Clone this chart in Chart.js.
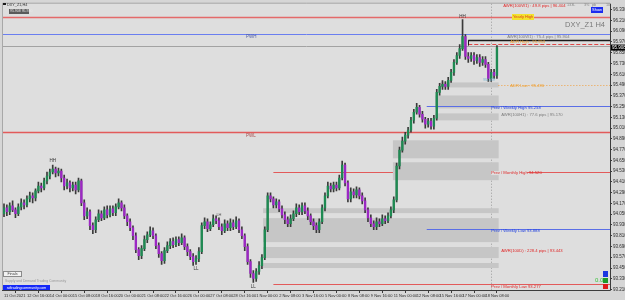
<!DOCTYPE html>
<html>
<head>
<meta charset="utf-8">
<script src="https://cdn.jsdelivr.net/npm/chart.js@4.4.1/dist/chart.umd.min.js"></script>
<style>
  html, body { margin: 0; padding: 0; background: #dcdcdc; overflow: hidden; }
  canvas { display: block; }
</style>
</head>
<body>
<canvas id="chart" width="625" height="300"></canvas>
<script>
// DXY_Z1 H4 - candles from 11 Oct 2021 08:00 to 19 Nov 2021 00:00

const opens = [
  94.055, 94.121, 94.077, 94.143, 94.099, 94.055, 94.132, 94.177, 94.154, 94.221,
  94.254, 94.232, 94.310, 94.365, 94.343, 94.421, 94.476, 94.521, 94.554, 94.510,
  94.532, 94.454, 94.365, 94.399, 94.343, 94.376, 94.321, 94.421, 94.177, 94.032,
  94.077, 93.922, 93.877, 93.988, 94.055, 94.010, 94.099, 94.043, 94.110, 94.066,
  94.132, 94.177, 94.121, 94.032, 93.966, 93.899, 93.810, 93.655, 93.588, 93.666,
  93.766, 93.821, 93.866, 93.810, 93.699, 93.611, 93.533, 93.644, 93.699, 93.744,
  93.710, 93.766, 93.733, 93.788, 93.688, 93.633, 93.577, 93.522, 93.555, 93.633,
  93.922, 93.966, 93.888, 93.932, 93.999, 93.977, 93.910, 93.866, 93.944, 93.899,
  93.955, 93.910, 93.977, 93.877, 93.810, 93.688, 93.522, 93.389, 93.333, 93.411,
  93.477, 93.566, 93.877, 94.254, 94.221, 94.154, 94.188, 94.110, 94.043, 93.988,
  93.944, 93.999, 94.055, 94.121, 94.077, 94.143, 94.088, 94.032, 93.966, 93.922,
  93.877, 93.966, 94.121, 94.254, 94.365, 94.332, 94.376, 94.343, 94.454, 94.598,
  94.399, 94.221, 94.299, 94.265, 94.321, 94.254, 94.199, 94.099, 94.010, 93.944,
  93.910, 93.966, 93.944, 93.999, 93.977, 94.032, 94.099, 94.210, 94.587, 94.765,
  94.865, 94.931, 94.987, 95.098, 95.187, 95.242, 95.164, 95.109, 95.054, 95.087,
  95.031, 95.120, 95.409, 95.475, 95.497, 95.475, 95.542, 95.631, 95.742, 95.819,
  95.897, 96.030, 95.808, 95.786, 95.819, 95.764, 95.797, 95.742, 95.775, 95.720,
  95.564, 95.631, 95.597
];
const highs = [
  94.165, 94.154, 94.176, 94.199, 94.121, 94.165, 94.221, 94.210, 94.254, 94.298,
  94.287, 94.332, 94.409, 94.398, 94.454, 94.520, 94.554, 94.598, 94.576, 94.565,
  94.554, 94.487, 94.443, 94.421, 94.409, 94.409, 94.454, 94.443, 94.210, 94.121,
  94.099, 93.955, 94.021, 94.099, 94.088, 94.132, 94.143, 94.143, 94.143, 94.165,
  94.221, 94.199, 94.154, 94.054, 93.999, 93.921, 93.843, 93.677, 93.699, 93.810,
  93.854, 93.910, 93.899, 93.832, 93.732, 93.633, 93.677, 93.743, 93.777, 93.788,
  93.799, 93.799, 93.832, 93.810, 93.721, 93.655, 93.610, 93.588, 93.677, 93.955,
  94.010, 93.999, 93.965, 94.043, 94.032, 94.010, 93.943, 93.988, 93.977, 93.999,
  93.988, 94.021, 93.999, 93.910, 93.832, 93.721, 93.544, 93.422, 93.444, 93.521,
  93.599, 93.910, 94.287, 94.287, 94.243, 94.221, 94.210, 94.143, 94.076, 94.021,
  94.043, 94.088, 94.165, 94.154, 94.176, 94.176, 94.121, 94.054, 93.999, 93.955,
  93.999, 94.154, 94.287, 94.409, 94.398, 94.409, 94.409, 94.487, 94.642, 94.620,
  94.421, 94.343, 94.332, 94.354, 94.343, 94.287, 94.232, 94.121, 94.043, 93.977,
  94.010, 93.999, 94.043, 94.032, 94.065, 94.132, 94.243, 94.620, 94.798, 94.909,
  94.964, 95.020, 95.131, 95.220, 95.286, 95.264, 95.197, 95.131, 95.120, 95.120,
  95.153, 95.442, 95.508, 95.541, 95.530, 95.575, 95.664, 95.775, 95.852, 95.941,
  96.219, 96.052, 95.852, 95.852, 95.852, 95.830, 95.830, 95.808, 95.808, 95.742,
  95.664, 95.664, 95.930
];
const lows = [
  94.022, 94.033, 94.044, 94.077, 94.011, 94.033, 94.099, 94.110, 94.132, 94.188,
  94.176, 94.199, 94.288, 94.299, 94.321, 94.388, 94.443, 94.499, 94.466, 94.477,
  94.410, 94.321, 94.332, 94.299, 94.310, 94.277, 94.299, 94.144, 93.988, 93.999,
  93.878, 93.833, 93.844, 93.966, 93.977, 93.988, 94.010, 94.021, 94.033, 94.033,
  94.110, 94.088, 93.999, 93.922, 93.866, 93.766, 93.622, 93.544, 93.555, 93.644,
  93.733, 93.799, 93.777, 93.666, 93.567, 93.489, 93.500, 93.622, 93.666, 93.677,
  93.688, 93.700, 93.711, 93.655, 93.589, 93.544, 93.478, 93.489, 93.522, 93.611,
  93.889, 93.855, 93.866, 93.910, 93.944, 93.877, 93.822, 93.844, 93.866, 93.866,
  93.877, 93.888, 93.844, 93.777, 93.644, 93.489, 93.345, 93.289, 93.300, 93.378,
  93.444, 93.544, 93.855, 94.188, 94.121, 94.121, 94.077, 94.010, 93.944, 93.911,
  93.911, 93.977, 94.022, 94.044, 94.044, 94.055, 93.988, 93.933, 93.878, 93.844,
  93.844, 93.944, 94.088, 94.232, 94.299, 94.299, 94.310, 94.321, 94.432, 94.366,
  94.188, 94.188, 94.232, 94.232, 94.221, 94.166, 94.066, 93.966, 93.911, 93.877,
  93.877, 93.911, 93.922, 93.944, 93.955, 94.010, 94.066, 94.188, 94.554, 94.743,
  94.832, 94.898, 94.965, 95.065, 95.165, 95.131, 95.076, 95.010, 95.021, 94.998,
  94.998, 95.098, 95.376, 95.442, 95.442, 95.442, 95.520, 95.598, 95.720, 95.786,
  95.875, 95.775, 95.742, 95.753, 95.720, 95.731, 95.698, 95.709, 95.687, 95.531,
  95.531, 95.564, 95.564
];
const closes = [
  94.121, 94.077, 94.143, 94.099, 94.055, 94.132, 94.177, 94.154, 94.221, 94.254,
  94.232, 94.310, 94.365, 94.343, 94.421, 94.476, 94.521, 94.554, 94.510, 94.532,
  94.454, 94.365, 94.399, 94.343, 94.376, 94.321, 94.421, 94.177, 94.032, 94.077,
  93.922, 93.877, 93.988, 94.055, 94.010, 94.099, 94.043, 94.110, 94.066, 94.132,
  94.177, 94.121, 94.032, 93.966, 93.899, 93.810, 93.655, 93.588, 93.666, 93.766,
  93.821, 93.866, 93.810, 93.699, 93.611, 93.533, 93.644, 93.699, 93.744, 93.710,
  93.766, 93.733, 93.788, 93.688, 93.633, 93.577, 93.522, 93.555, 93.633, 93.922,
  93.966, 93.888, 93.932, 93.999, 93.977, 93.910, 93.866, 93.944, 93.899, 93.955,
  93.910, 93.977, 93.877, 93.810, 93.688, 93.522, 93.389, 93.333, 93.411, 93.477,
  93.566, 93.877, 94.254, 94.221, 94.154, 94.188, 94.110, 94.043, 93.988, 93.944,
  93.999, 94.055, 94.121, 94.077, 94.143, 94.088, 94.032, 93.966, 93.922, 93.877,
  93.966, 94.121, 94.254, 94.365, 94.332, 94.376, 94.343, 94.454, 94.598, 94.399,
  94.221, 94.299, 94.265, 94.321, 94.254, 94.199, 94.099, 94.010, 93.944, 93.910,
  93.966, 93.944, 93.999, 93.977, 94.032, 94.099, 94.210, 94.587, 94.765, 94.865,
  94.931, 94.987, 95.098, 95.187, 95.242, 95.164, 95.109, 95.054, 95.087, 95.031,
  95.120, 95.409, 95.475, 95.497, 95.475, 95.542, 95.631, 95.742, 95.819, 95.897,
  96.030, 95.808, 95.786, 95.819, 95.764, 95.797, 95.742, 95.775, 95.720, 95.564,
  95.631, 95.597, 95.908
];

// time axis labels, one every 8 bars
const timeLabels = [
  '11 Oct 2021', '12 Oct 16:00', '14 Oct 00:00', '15 Oct 08:00', '18 Oct 16:00', '20 Oct 00:00',
  '21 Oct 08:00', '22 Oct 16:00', '26 Oct 00:00', '27 Oct 08:00', '28 Oct 16:00', '1 Nov 00:00',
  '2 Nov 08:00', '3 Nov 16:00', '5 Nov 00:00', '8 Nov 08:00', '9 Nov 16:00', '11 Nov 00:00',
  '12 Nov 08:00', '15 Nov 16:00', '17 Nov 00:00', '18 Nov 08:00'
];
const priceTicks = [
  96.330, 96.210, 96.090, 95.970, 95.850, 95.730, 95.610, 95.490, 95.370, 95.250,
  95.130, 95.010, 94.890, 94.770, 94.650, 94.530, 94.410, 94.290, 94.170, 94.050,
  93.930, 93.810, 93.690, 93.570, 93.450, 93.330, 93.210
];

// supply / demand zones (bar index from-to, price top-bottom)
const zoneFrom   = [152, 150.5, 150.5, 135.7, 135.7, 90.4, 90.4, 90.4, 90.4];
const zoneTo     = [172.6, 172.6, 172.6, 172.6, 172.6, 172.6, 172.6, 172.6, 172.6];
const zoneTop    = [95.519, 95.374, 95.174, 94.874, 94.629, 94.117, 94.006, 93.684, 93.506];
const zoneBottom = [95.463, 95.229, 95.096, 94.673, 94.429, 94.062, 93.739, 93.561, 93.450];

// key levels
const yearlyHigh = 96.252;
const pwhLevel = 96.063;
const pwlLevel = 94.962;
const weeklyHigh = 95.258;
const weeklyLow = 93.888;
const monthlyHigh = 94.520;
const monthlyLow = 93.277;
const adrHigh = 95.991;
const adrMid = 95.952;
const adrLow = 95.496;
const dayStartBar = 170;

const GREEN = '#1e8a52';
const PURPLE = '#9c27c4';
const WICK = '#3a3a3a';
const FONT = '"Liberation Sans", Arial, sans-serif';

const bodies = opens.map((o, i) => ({ x: i, y: [o, closes[i]] }));
const wicks = highs.map((h, i) => ({ x: i, y: [lows[i], h] }));

function txt(ctx, s, x, y, color, size, align) {
  ctx.font = size + 'px ' + FONT;
  ctx.fillStyle = color;
  ctx.textAlign = align || 'left';
  ctx.textBaseline = 'middle';
  ctx.fillText(s, x, y);
}

function hline(ctx, y, x1, x2, color, width, dash) {
  ctx.save();
  ctx.strokeStyle = color;
  ctx.lineWidth = width || 1;
  ctx.setLineDash(dash || []);
  ctx.beginPath();
  const yy = Math.round(y) + 0.5;
  ctx.moveTo(x1, yy);
  ctx.lineTo(x2, yy);
  ctx.stroke();
  ctx.restore();
}

const overlay = {
  id: 'overlay',
  beforeDraw(chart) {
    const { ctx, chartArea: a } = chart;
    ctx.save();
    ctx.fillStyle = '#d6d6d6';
    ctx.fillRect(0, 0, chart.width, chart.height);
    ctx.fillStyle = '#dedede';
    ctx.fillRect(a.left, a.top, a.right - a.left, a.bottom - a.top);
    ctx.restore();
  },
  beforeDatasetsDraw(chart) {
    const { ctx, chartArea: a } = chart;
    const X = v => chart.scales.x.getPixelForValue(v);
    const Y = v => chart.scales.y.getPixelForValue(v);

    // day separator
    ctx.save();
    ctx.strokeStyle = '#9a9a9a';
    ctx.setLineDash([1, 2]);
    ctx.beginPath();
    ctx.moveTo(Math.round(X(dayStartBar)) + 0.5, a.top);
    ctx.lineTo(Math.round(X(dayStartBar)) + 0.5, a.bottom);
    ctx.stroke();
    ctx.restore();

    hline(ctx, Y(monthlyHigh), X(94), a.right, '#e25a5a');

    // zones
    ctx.fillStyle = '#c6c6c6';
    zoneFrom.forEach((f, i) => {
      const x1 = X(f), x2 = X(zoneTo[i]);
      const y1 = Y(zoneTop[i]), y2 = Y(zoneBottom[i]);
      ctx.fillRect(x1, y1, x2 - x1, y2 - y1);
    });

    hline(ctx, Y(yearlyHigh), a.left, a.right, '#e46a6a', 1.5);
    hline(ctx, Y(pwhLevel), a.left, a.right, '#6a7ef0');
    hline(ctx, Y(pwlLevel), a.left, a.right, '#e25a5a', 1.5);
    hline(ctx, Y(closes[closes.length - 1]) - 2, a.left, a.right, '#a2a2a2');
    hline(ctx, Y(weeklyHigh), X(147.5), a.right, '#5a6ee6');
    hline(ctx, Y(weeklyLow), X(147.5), a.right, '#5a6ee6');
    hline(ctx, Y(monthlyLow), X(94), a.right, '#e25a5a');
    hline(ctx, Y(adrHigh), X(162), a.right, '#1a1a1a', 1.5);
    hline(ctx, Y(adrMid), X(162), a.right, '#e04848', 1, [4, 2]);
    hline(ctx, Y(adrLow), X(172.5), a.right, '#f0a040', 1, [1, 2]);
    ctx.save();
    ctx.strokeStyle = '#1a1a1a';
    ctx.beginPath();
    ctx.moveTo(Math.round(X(162)) + 0.5, Y(adrHigh));
    ctx.lineTo(Math.round(X(162)) + 0.5, Y(adrMid) + 2);
    ctx.stroke();
    ctx.restore();
  },
  afterDatasetsDraw(chart) {
    const { ctx, chartArea: a } = chart;
    const X = v => chart.scales.x.getPixelForValue(v);
    const Y = v => chart.scales.y.getPixelForValue(v);
    const xd = X(dayStartBar);
    ctx.save();

    // chart frame
    ctx.strokeStyle = '#a8a8a8';
    ctx.lineWidth = 1;
    ctx.beginPath();
    ctx.moveTo(2.5, a.bottom); ctx.lineTo(2.5, a.top - 0.5); ctx.lineTo(a.right, a.top - 0.5);
    ctx.stroke();
    ctx.strokeStyle = '#3c3c3c';
    ctx.beginPath();
    ctx.moveTo(a.right + 0.5, a.top); ctx.lineTo(a.right + 0.5, a.bottom + 0.5); ctx.lineTo(2, a.bottom + 0.5);
    ctx.stroke();

    // swing labels
    txt(ctx, 'HH', X(17), Y(highs[17]) - 4, '#333', 4.5, 'center');
    txt(ctx, 'HH', X(160), Y(highs[160]) - 3, '#333', 4.5, 'center');
    txt(ctx, 'LL', X(67), Y(lows[67]) + 4, '#333', 4.5, 'center');
    txt(ctx, 'LL', X(87), Y(lows[87]) + 4, '#333', 4.5, 'center');
    txt(ctx, 'LH', X(75), Y(highs[75]) - 3, '#555', 4, 'center');

    // level captions
    txt(ctx, 'PWH', 246, Y(pwhLevel) + 3, '#4a5aa8', 4.5);
    txt(ctx, 'PWL', 246, Y(pwlLevel) + 3, '#a84a4a', 4.5);
    txt(ctx, 'AWR(100W1) : 49.8 pips | 96.404', xd + 12, 5.5, '#e02828', 4.2);
    ctx.fillStyle = '#f2e22e';
    ctx.fillRect(512, 14, 22, 6);
    txt(ctx, 'Yearly High', 513, 17, '#e03a1a', 4);
    txt(ctx, 'AWR(100W1) : 75.4 pips | 95.904', xd + 16, Y(pwhLevel) + 3, '#7c7c7c', 4.2);
    txt(ctx, 'ADR High : 95.953', xd + 19, Y(adrHigh) + 2, '#f0a030', 4.2);
    txt(ctx, 'ADR Low : 95.496', xd + 19, Y(adrLow) + 1, '#f0a030', 4.2);
    txt(ctx, '95.549', xd - 8, Y(95.55), '#6ab0d0', 3.8);
    txt(ctx, 'Prev / Weekly High 95.258', xd, Y(weeklyHigh) + 2, '#2040e0', 4.2);
    txt(ctx, 'AWR(100H1) : 77.6 pips | 95.170', xd + 10, Y(95.155), '#7c7c7c', 4.2);
    ctx.fillStyle = '#dedede';
    ctx.fillRect(xd, Y(monthlyHigh) - 1, 36, 4);
    txt(ctx, 'Prev / Monthly High 94.520', xd, Y(monthlyHigh) + 1, '#e02828', 4.2);
    txt(ctx, 'Prev / Weekly Low 93.888', xd, Y(weeklyLow) + 2, '#2040e0', 4.2);
    txt(ctx, 'AWR(100D) : 228.4 pips | 93.443', xd + 10, Y(93.64), '#e02828', 4.2);
    txt(ctx, 'Prev / Monthly Low 93.277', xd, Y(monthlyLow) + 3, '#e02828', 4.2);

    // symbol caption and panel items
    txt(ctx, 'DXY_Z1 H4', 565, 25, '#7a7a7a', 7.5);
    ctx.fillStyle = '#1c2cf0';
    ctx.fillRect(591, 7, 12, 6);
    txt(ctx, 'Show', 597, 10, '#ffffff', 4, 'center');
    txt(ctx, '133L', 567, 4.5, '#8a8a8a', 3.8);
    txt(ctx, '3%', 584, 4.5, '#8a8a8a', 3.8);
    txt(ctx, 'pb', 592, 4.5, '#8a8a8a', 3.8);
    txt(ctx, '10', 606, 4.5, '#8a8a8a', 3.8);
    ctx.fillStyle = '#1a1a1a';
    ctx.fillRect(3, 3, 3, 2);
    txt(ctx, 'DXY_Z1,H4', 7, 4.5, '#333', 3.8);
    ctx.fillStyle = '#5a5a5a';
    ctx.fillRect(9, 9, 20, 5);
    txt(ctx, '95.908 95.930', 10, 11.5, '#e8e8e8', 3.5);

    // bottom left widgets
    ctx.fillStyle = '#f2f2f2';
    ctx.fillRect(3, 271, 19, 6);
    ctx.strokeStyle = '#8a8a8a';
    ctx.strokeRect(3.5, 271.5, 18, 5);
    txt(ctx, 'Finals', 12.5, 274, '#444', 3.8, 'center');
    txt(ctx, 'Supply and Demand Trading Community', 5, 281, '#9a9a9a', 3.4);
    ctx.fillStyle = '#1428f8';
    ctx.fillRect(3, 285, 47, 5);
    txt(ctx, 'sdtradingcommunity.com', 26.5, 287.5, '#ffffff', 3.6, 'center');

    // bottom right buttons
    ctx.fillStyle = '#1a36e0'; ctx.fillRect(603, 271, 5, 6);
    ctx.fillStyle = '#1e9a2a'; ctx.fillRect(603, 278, 5, 5);
    ctx.fillStyle = '#e01c1c'; ctx.fillRect(603, 284, 5, 5);
    txt(ctx, '0.0', 595, 280.5, '#3cc43c', 6);

    // current price box on the axis
    const yc = Y(closes[closes.length - 1]);
    ctx.fillStyle = '#000000';
    ctx.fillRect(a.right + 1, yc - 3, 15, 6);
    txt(ctx, closes[closes.length - 1].toFixed(3), a.right + 2, yc, '#ffffff', 4.5);
    ctx.restore();
  }
};

new Chart(document.getElementById('chart'), {
  type: 'bar',
  data: {
    datasets: [
      {
        label: 'wicks',
        data: wicks,
        backgroundColor: WICK,
        barThickness: 1,
        grouped: false,
        order: 2
      },
      {
        label: 'bodies',
        data: bodies,
        backgroundColor: ctx => (closes[ctx.dataIndex] >= opens[ctx.dataIndex] ? GREEN : PURPLE),
        barThickness: 1.7,
        grouped: false,
        order: 1
      }
    ]
  },
  options: {
    responsive: false,
    devicePixelRatio: 1,
    animation: false,
    layout: { padding: { left: 3, top: 3, right: 0, bottom: 0 } },
    plugins: { legend: { display: false }, tooltip: { enabled: false } },
    scales: {
      x: {
        type: 'linear',
        offset: false,
        min: -0.35,
        max: 211.45,
        border: { display: false },
        grid: { display: true, drawOnChartArea: false, drawTicks: true, tickLength: 3, color: '#3c3c3c' },
        afterBuildTicks: scale => { scale.ticks = timeLabels.map((_, i) => ({ value: i * 8 })); },
        afterFit: scale => { scale.height = 10; },
        ticks: {
          autoSkip: false,
          maxRotation: 0,
          minRotation: 0,
          align: 'start',
          padding: 0,
          color: '#2a2a2a',
          font: { family: FONT, size: 4 },
          callback: (v, i) => timeLabels[i]
        }
      },
      y: {
        position: 'right',
        min: 93.205,
        max: 96.397,
        border: { display: false },
        grid: { display: true, drawOnChartArea: false, drawTicks: true, tickLength: 2, color: '#3c3c3c' },
        afterBuildTicks: scale => { scale.ticks = priceTicks.map(v => ({ value: v })); },
        afterFit: scale => { scale.width = 15; },
        ticks: {
          autoSkip: false,
          padding: 1,
          color: '#2a2a2a',
          font: { family: FONT, size: 4.5 },
          callback: v => v.toFixed(3)
        }
      }
    }
  },
  plugins: [overlay]
});
</script>
</body>
</html>
